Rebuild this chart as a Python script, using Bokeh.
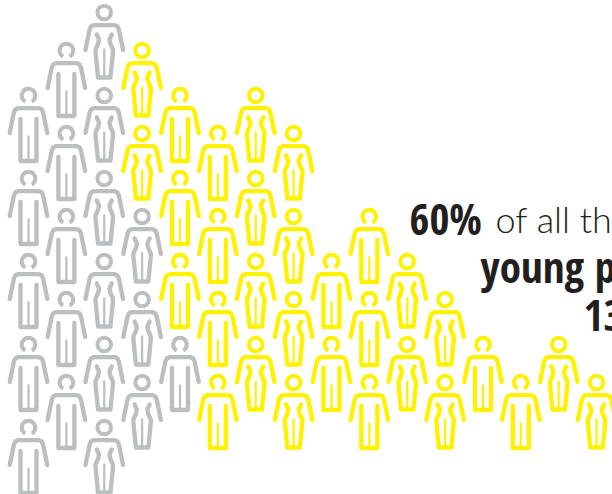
import math
from bokeh.plotting import figure
from bokeh.models import Range1d
from bokeh.core.properties import value
from bokeh.embed import file_html
from bokeh.resources import INLINE

# pictogram data: 50 people, 30 of them (60%) highlighted
# level = half-row index of each person inside a column
columns = list(range(1, 17))
female_columns = [3, 4, 7, 8, 11, 12, 15, 16]
gray_levels = {1: [2, 4, 6, 8, 10], 2: [1, 3, 5, 7, 9], 3: [0, 2, 4, 6, 8, 10],
               4: [5, 7, 9], 5: [8]}
yellow_levels = {4: [1, 3], 5: [2, 4, 6], 6: [3, 5, 7, 9], 7: [2, 4, 6, 8],
                 8: [3, 5, 7, 9], 9: [6, 8], 10: [5, 7, 9], 11: [6, 8], 12: [7, 9],
                 13: [8], 14: [9], 15: [8], 16: [9]}
text_labels = ["60%", "of all th", "young p", "13"]

GRAY = "#BDBEC0"
YELLOW = "#FFF200"
INK = "#231F20"

# px per data unit
SX, SY = 37.87, 41.5
X0, Y0 = 28.0, 12.0
STAGGER = -3.5  # odd levels sit this many px off the half-row
W, H = 612, 494

# icon templates: offsets in px from the head's centre
ARMS = [(-18.8, 37.5), (-14.6, 17), (-13.2, 14), (-10.5, 12.6), (10.5, 12.6), (13.2, 14), (14.6, 17), (18.8, 37.5)]
MALE_THICK = [[(-8, 23.5), (-8, 65.5), (8, 65.5), (8, 23.5)]]
FEMALE_THICK = [[(-7.5, 22), (-5.2, 27), (-6, 31), (-8.7, 37), (-8.7, 40), (-6.2, 65), (6.2, 65), (8.7, 40), (8.7, 37), (6, 31), (5.2, 27), (7.5, 22)]]
MALE_LEG = [(0, 40), (0, 65)]
FEMALE_LEG = [(0, 36), (0, 64)]


def make(levels):
    out = dict(thick_x=[], thick_y=[], thin_x=[], thin_y=[], hx_m=[], hy_m=[], hx_f=[], hy_f=[])
    for col, rows in levels.items():
        female = col in female_columns
        for row in rows:
            lev = row + (STAGGER / SY if row % 2 else 0)
            parts = [ARMS] + (FEMALE_THICK if female else MALE_THICK)
            for part in parts:
                out["thick_x"].append([col + a / SX for a, _ in part])
                out["thick_y"].append([lev + b / SY for _, b in part])
            leg = FEMALE_LEG if female else MALE_LEG
            out["thin_x"].append([col + a / SX for a, _ in leg])
            out["thin_y"].append([lev + b / SY for _, b in leg])
            if female:
                out["hx_f"].append(col)
                out["hy_f"].append(lev)
            else:
                out["hx_m"].append(col)
                out["hy_m"].append(lev)
    return out


p = figure(width=W, height=H, output_backend="svg", toolbar_location=None,
           x_axis_type=None, y_axis_type=None, min_border=0,
           x_range=Range1d(1 - X0 / SX, 1 + (W - X0) / SX),
           y_range=Range1d((H - Y0) / SY, -Y0 / SY),
           outline_line_color=None, background_fill_color="white", border_fill_color="white")

for levels, color in ((gray_levels, GRAY), (yellow_levels, YELLOW)):
    d = make(levels)
    p.multi_line(d["thick_x"], d["thick_y"], line_color=color, line_width=4.3,
                 line_cap="round", line_join="round")
    p.multi_line(d["thin_x"], d["thin_y"], line_color=color, line_width=2.2)
    p.arc(d["hx_m"], d["hy_m"], radius=6.8 / SX, start_angle=math.radians(-62),
          end_angle=math.radians(-118), direction="anticlock", line_color=color, line_width=4.0)
    p.circle(d["hx_f"], d["hy_f"], radius=6.8 / SX, fill_color=None, line_color=color, line_width=4.0)


def tx(px):
    return 1 + (px - X0) / SX


def ty(px):
    return (px - Y0) / SY


NARROW = value("Open Sans Condensed")
p.text([tx(409)], [ty(218)], text=[text_labels[0]], text_font=NARROW, text_font_style="bold",
       text_font_size="43px", text_color=INK, text_baseline="alphabetic")
p.text([tx(495)], [ty(218)], text=[text_labels[1]], text_font=value("Lato Light"), text_font_style="normal",
       text_font_size="36px", text_color=INK, text_baseline="alphabetic")
p.text([tx(480)], [ty(266)], text=[text_labels[2]], text_font=NARROW, text_font_style="bold",
       text_font_size="43px", text_color=INK, text_baseline="alphabetic")
p.text([tx(583)], [ty(315)], text=[text_labels[3]], text_font=NARROW, text_font_style="bold",
       text_font_size="43px", text_color=INK, text_baseline="alphabetic")

open("out.html", "w").write(file_html(p, INLINE))
